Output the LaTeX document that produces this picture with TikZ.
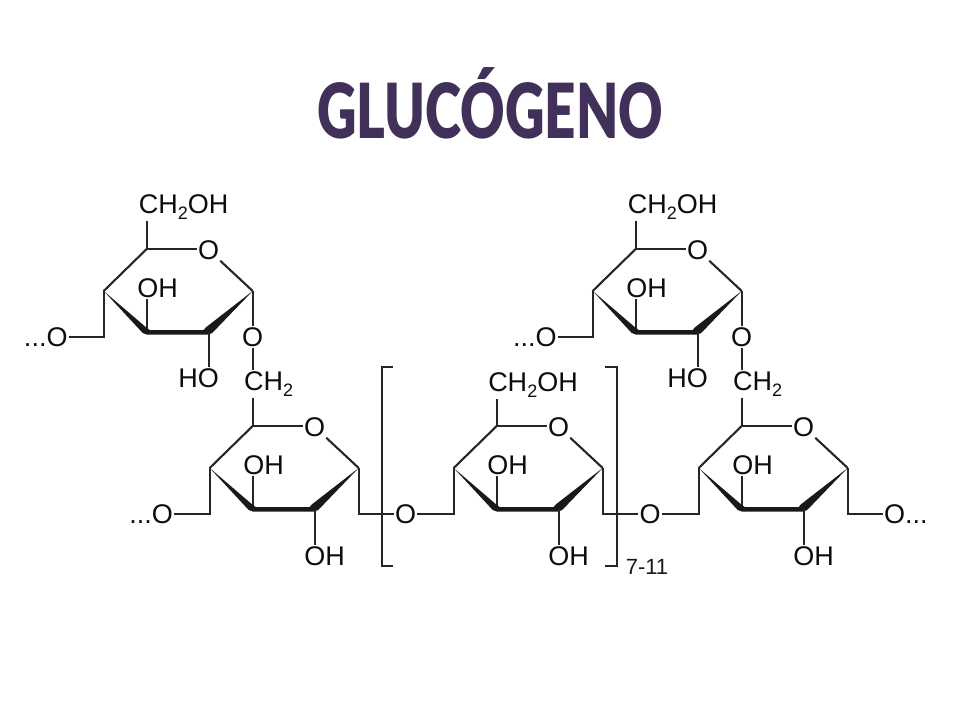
\documentclass[tikz,border=0pt]{standalone}
\usepackage{fontspec}
\setmainfont{Liberation Sans}
\newfontfamily\titlefont{Lato Black}
\usepackage{xcolor}
\definecolor{titlepurple}{HTML}{41305A}
\newcommand{\subtwo}{\raisebox{-0.22em}{\fontsize{18}{18}\selectfont 2}}
\tikzset{
    atom/.style={inner sep=1pt, text=black!95, font=\fontsize{27}{29}\selectfont},
    bond/.style={line width=2.1pt, line join=miter, color=black!85},
    small/.style={inner sep=0pt, text=black!90, font=\fontsize{22}{24}\selectfont}
}

\begin{document}
\begin{tikzpicture}[x=1pt, y=-1pt]
    \useasboundingbox (0,0) rectangle (960,720);
    \node[inner sep=0pt, text=titlepurple] (title) at (490,103) {\scalebox{0.72}[1]{\titlefont\fontsize{76}{80}\selectfont GLUCÓGENO}};

    % five sugar rings
    \foreach \ring/\x/\y in {a/146.7/249, d/635.7/249, b/252.7/426, c/496.7/426, e/741.7/426} {
        \begin{scope}[shift={(\x,\y)}]
            \coordinate (\ring top) at (0,0);
            \node[atom] (\ring o) at (62,1) {O};
            \coordinate (\ring c1) at (106,42);
            \coordinate (\ring c2) at (62,83);
            \coordinate (\ring c3) at (0,83);
            \coordinate (\ring c4) at (-43,42);
            \node[atom] (\ring oh) at (11,39) {OH};
            \draw[bond] (\ring top) -- (\ring top -| \ring o.west);
            \draw[bond] (\ring o) -- (\ring c1);
            \draw[bond] (\ring c4) -- (\ring top);
            \draw[bond] (\ring c3) -- (\ring c3 |- \ring oh.south);
            \fill[black!90] (-43,42) -- (-4,84) -- (0,85.5) -- (62,85.5) -- (65.5,84) -- (106,42)
                -- (59,78.5) -- (57,81) -- (3,81) -- (-1,78) -- cycle;
        \end{scope}
    }

    % the two upper rings and their links down
    \foreach \ring/\low/\x in {a/b/146.7, d/e/635.7} {
        \begin{scope}[shift={(\x,249)}]
            \node[atom] (\ring ch) at (37,-42) {CH\subtwo OH};
            \node[atom] (\ring ho) at (52,129) {HO};
            \node[atom, anchor=east] (\ring left) at (-78,88) {...O};
            \node[atom] (\ring link) at (106,88) {O};
            \node[atom] (\ring cht) at (122,135) {CH\subtwo};
        \end{scope}
        \draw[bond] (\ring top) -- (\ring top |- \ring ch.south);
        \draw[bond] (\ring c2) -- (\ring c2 |- \ring ho.north);
        \draw[bond] (\ring c4) |- (\ring left);
        \draw[bond] (\ring c1) -- (\ring link);
        \draw[bond] (\ring link) -- (\ring link |- \ring cht.north);
        \draw[bond] (\ring link |- \ring cht.south) -- (\low top);
    }

    % lower rings, OH groups
    \foreach \ring/\x in {b/252.7, c/496.7, e/741.7} {
        \node[atom] (\ring low) at (\x+72,556) {OH};
        \draw[bond] (\ring c2) -- (\ring c2 |- \ring low.north);
    }
    \node[atom] (cch) at (533,385) {CH\subtwo OH};
    \draw[bond] (ctop) -- (ctop |- cch.south);

    \node[atom, anchor=east] (bleft) at (174,514) {...O};
    \node[atom] (lefto) at (405.7,514) {O};
    \node[atom] (righto) at (650,514) {O};
    \node[atom, anchor=west] (eright) at (883,514) {O...};

    \draw[bond] (bc4) |- (bleft);
    \draw[bond] (bc1) |- (lefto);
    \draw[bond] (cc4) |- (lefto);
    \draw[bond] (cc1) |- (righto);
    \draw[bond] (ec4) |- (righto);
    \draw[bond] (ec1) |- (eright);

    % brackets
    \coordinate (lbrt) at (393,367);
    \coordinate (lbrb) at (393,566);
    \coordinate (rbrt) at (605,367);
    \coordinate (rbrb) at (605,566);
    \draw[bond] (lbrt) -- (381.7,367) -- (381.7,566) -- (lbrb);
    \draw[bond] (rbrt) -- (617,367) -- (617,566) -- (rbrb);
    \node[small] (count) at (647,567) {7-11};
\end{tikzpicture}
\end{document}
